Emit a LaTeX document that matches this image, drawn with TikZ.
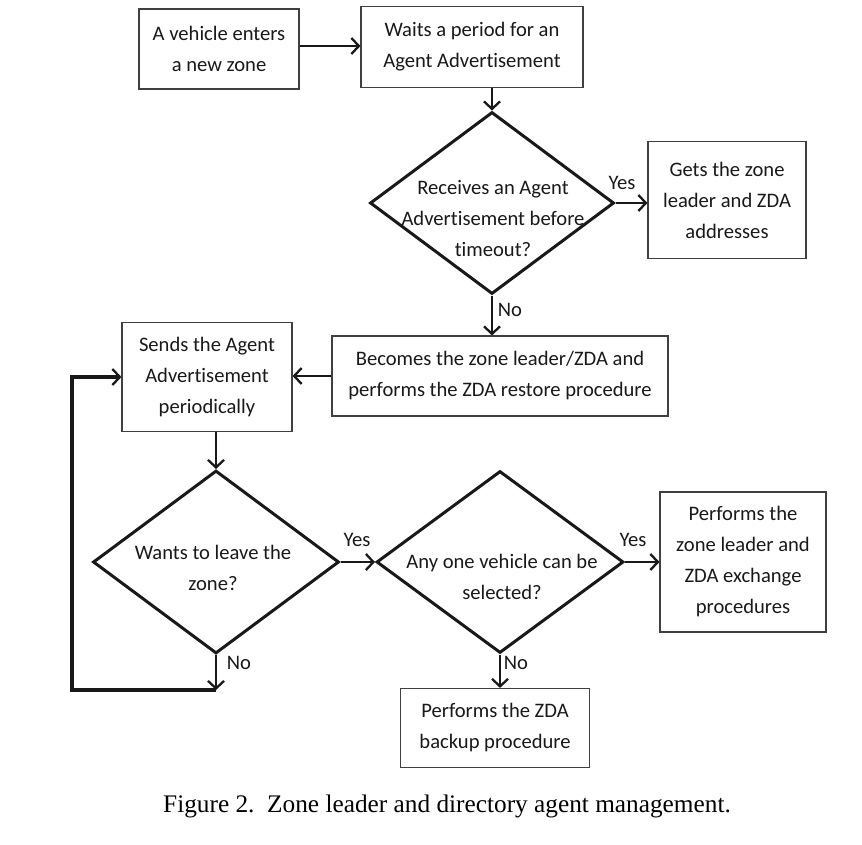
\documentclass[tikz,border=0pt]{standalone}
\usepackage{fontspec}
\newfontfamily\flowfont[Ligatures=NoCommon]{Carlito}
\newfontfamily\capfont{Liberation Serif}
\usetikzlibrary{arrows.meta,shapes.geometric}
\begin{document}
\begin{tikzpicture}[x=1pt,y=-1pt,
  txt/.style={font=\flowfont\fontsize{20.6}{31}\selectfont,text=black!90,align=center,inner sep=0pt},
  box/.style={txt,draw=black!75,line width=1.1pt},
  dia/.style={diamond,draw=black!90,line width=3pt,inner sep=0pt},
  arr/.style={draw=black!90,line width=2.3pt,-{Straight Barb[length=7.5pt,width=16pt,line width=2.3pt]}},
  loopline/.style={draw=black!90,line width=3.2pt,-{Straight Barb[length=7.5pt,width=16pt,line width=2.3pt]}},
  lbl/.style={txt}]
\useasboundingbox (0,0) rectangle (862,845);

% boxes
\node[box,minimum width=160pt,minimum height=80pt] (b1) at (219,49) {A vehicle enters\\a new zone};
\node[box,minimum width=222pt,minimum height=81pt] (b2) at (472,47) {Waits a period for an\\Agent Advertisement};
\node[box,minimum width=158pt,minimum height=117pt] (b3) at (727,200) {Gets the zone\\leader and ZDA\\addresses};
\node[box,minimum width=336pt,minimum height=80pt] (b4) at (500,376) {Becomes the zone leader/ZDA and\\performs the ZDA restore procedure};
\node[box,minimum width=170pt,minimum height=109pt] (b5) at (207,377) {Sends the Agent\\Advertisement\\periodically};
\node[box,minimum width=166pt,minimum height=140pt] (b6) at (743,562) {Performs the\\zone leader and\\ZDA exchange\\procedures};
\node[box,minimum width=189pt,minimum height=79pt] (b7) at (495,728) {Performs the ZDA\\backup procedure};

% diamonds
\node[dia,minimum width=244pt,minimum height=182pt] (d1) at (492,203) {};
\node[dia,minimum width=246pt,minimum height=183pt] (d2) at (216,562) {};
\node[dia,minimum width=247pt,minimum height=182pt] (d3) at (500,562) {};
\node[txt] (t1) at (493,218) {Receives an Agent\\Advertisement before\\timeout?};
\node[txt] (t2) at (213,568) {Wants to leave the\\zone?};
\node[txt] (t3) at (502,577) {Any one vehicle can be\\selected?};

% connectors
\draw[arr] (b1.east |- 0,46) -- (b2.west |- 0,46);
\draw[arr] (b2.south -| d1.north) -- (d1.north);
\draw[arr] (d1.east) -- (d1.east -| b3.west);
\draw[arr] (d1.south) -- (d1.south |- b4.north);
\draw[arr] (b4.west) -- (b4.west -| b5.east);
\draw[arr] (b5.south -| d2.north) -- (d2.north);
\draw[arr] (d2.east) -- (d3.west);
\draw[arr] (d3.east) -- (d3.east -| b6.west);
\draw[arr] (d3.south) -- (d3.south |- b7.north);
\coordinate (lp) at (216,690);
\coordinate (lc) at (72,690);
\draw[arr] (d2.south) -- (lp);
\draw[loopline] (lp) -- (lc) |- (b5.west);

% labels
\node[lbl] (y1) at (622,183) {Yes};
\node[lbl] (n1) at (510,310) {No};
\node[lbl] (y2) at (357,540) {Yes};
\node[lbl] (y3) at (633,540) {Yes};
\node[lbl] (n2) at (239,663) {No};
\node[lbl] (n3) at (516,663) {No};

% caption
\node[font=\capfont\fontsize{25.3}{30}\selectfont,inner sep=0pt] (cap) at (447,806) {Figure 2.\ \ Zone leader and directory agent management.};
\end{tikzpicture}
\end{document}
